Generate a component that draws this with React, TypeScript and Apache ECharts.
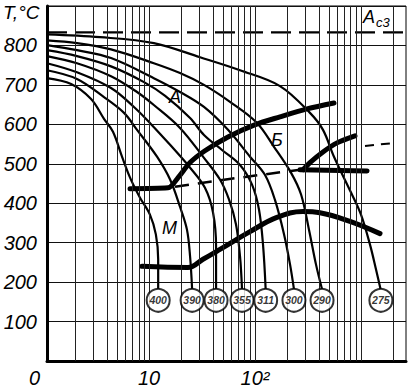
import React, { useEffect, useRef } from 'react';
import * as echarts from 'echarts';

// time axis (s, log) and temperature axis (°C)
const timeMin = 1.09;
const timeMax = 2658;
const tempMin = 0;
const tempMax = 900;
const tempStep = 100;
const ac3Temp = 833;
const circleTemp = 154;

const gridTimes = [2, 3, 4, 5, 6, 7, 8, 9, 10, 20, 30, 40, 50, 60, 70, 80, 90, 100, 200, 300, 400, 500, 600, 700, 800, 900, 1000, 2000];

const hardness = ['400', '390', '380', '355', '311', '300', '290', '275'];
const circleTimes = [12.2, 25.5, 42.9, 75.4, 126, 233, 429, 1540];

// cooling curves [time s, temperature °C]
const curve400 = [[1.09, 717], [1.84, 702], [2.84, 664], [3.76, 614], [4.57, 581], [5.56, 518], [6.62, 465], [8.22, 414], [10.2, 371], [11.6, 321], [12.2, 258], [12.2, 182]];
const curve390 = [[1.09, 737], [2.09, 715], [3.76, 669], [5.81, 629], [7.71, 586], [11.9, 518], [15.8, 460], [19.6, 391], [22.8, 333], [24.4, 265], [25.5, 182]];
const curve380 = [[1.09, 755], [2.09, 732], [4.38, 692], [7.21, 644], [10.4, 601], [15.8, 548], [24.4, 490], [33.7, 439], [40.2, 376], [42.9, 290], [42.9, 182]];
const curve355 = [[1.09, 773], [2.09, 755], [4.38, 722], [7.71, 682], [11.1, 649], [19.6, 591], [33.0, 515], [46.7, 460], [56.9, 409], [66.2, 346], [72.2, 265], [75.4, 182]];
const curve311 = [[1.09, 788], [2.09, 773], [4.38, 747], [8.97, 707], [14.2, 672], [24.4, 616], [33.0, 573], [48.8, 535], [72.2, 497], [93.7, 447], [109, 384], [119, 295], [126, 182]];
const curve300 = [[1.09, 801], [2.09, 788], [4.38, 768], [11.1, 717], [19.6, 682], [33.0, 644], [55.6, 586], [89.7, 518], [124, 472], [154, 409], [188, 321], [214, 245], [233, 182]];
const curve290 = [[1.09, 813], [2.09, 806], [4.38, 790], [11.1, 755], [19.6, 730], [33.0, 700], [58.1, 657], [104, 604], [151, 543], [219, 477], [272, 422], [323, 333], [376, 245], [429, 182]];
const curve275 = [[1.09, 828], [3.45, 821], [11.1, 806], [30.3, 770], [72.2, 737], [172, 697], [330, 629], [438, 586], [556, 518], [805, 427], [1000, 371], [1216, 295], [1386, 232], [1530, 182]];

const coolingCurves = [curve400, curve390, curve380, curve355, curve311, curve300, curve290, curve275];

// transformation lines
const upperLine = [[6.62, 437], [15.1, 439], [18.8, 465], [24.4, 503], [33.7, 533], [55.6, 568], [97.9, 598], [172, 619], [309, 639], [556, 654]];
const rightArc = [[284, 485], [330, 503], [438, 530], [594, 553], [877, 571]];
const rightFlat = [[266, 485], [1140, 482]];
const dashedLine = [[17.6, 442], [72.2, 465], [266, 485]];
const dashRight = [[1091, 545], [2093, 553]];
const lowerLine = [[8.59, 240], [23.3, 237], [32.3, 258], [46.7, 283], [89.7, 328], [161, 364], [284, 379], [410, 376], [787, 354], [1511, 323]];

const FONT = 'Liberation Sans';

export default function App() {
  const ref = useRef<HTMLDivElement>(null);
  useEffect(() => {
    if (!ref.current) return;
    const chart = echarts.init(ref.current, null, { renderer: 'svg' });
    const thin = (data: number[][], name: string) => ({
      type: 'line', name, data, showSymbol: false, smooth: 0.35, silent: true,
      lineStyle: { color: '#000', width: 2.2 }, z: 3,
    });
    const thick = (data: number[][], name: string, smooth = 0.3) => ({
      type: 'line', name, data, showSymbol: false, smooth, silent: true,
      lineStyle: { color: '#000', width: 5, cap: 'round' }, z: 4,
    });
    const series: any[] = [
      {
        type: 'line', name: 'Ac3', data: [[timeMin, ac3Temp], [timeMax, ac3Temp]], showSymbol: false, silent: true,
        lineStyle: { color: '#000', width: 2.2, type: [20, 8] }, z: 2,
        markLine: {
          silent: true, symbol: 'none', label: { show: false },
          lineStyle: { color: '#222', width: 1, type: 'solid' },
          data: gridTimes.map((t) => ({ xAxis: t })),
        },
      },
      ...coolingCurves.map((c, i) => thin(c, 'c' + hardness[i])),
      thick(upperLine, 'upper'),
      thick(rightArc, 'rightArc'),
      thick(rightFlat, 'rightFlat', 0),
      {
        type: 'line', name: 'dash', data: dashedLine, showSymbol: false, silent: true,
        lineStyle: { color: '#000', width: 2.5, type: [14, 9] }, z: 3,
      },
      {
        type: 'line', name: 'dashR', data: dashRight, showSymbol: false, silent: true,
        lineStyle: { color: '#000', width: 2, type: [9, 7] }, z: 3,
      },
      thick(lowerLine, 'lower', 0.4),
      {
        type: 'scatter', name: 'hv', z: 6, silent: true,
        data: circleTimes.map((t, i) => [t, circleTemp, hardness[i]]),
        symbol: 'circle', symbolSize: 23,
        itemStyle: { color: '#fff', borderColor: '#000', borderWidth: 2 },
        label: {
          show: true, position: 'inside', formatter: (p: any) => p.value[2],
          fontFamily: FONT, fontStyle: 'italic', fontWeight: 'bold', fontSize: 10.5,
          color: '#000', textBorderWidth: 0,
        },
      },
    ];
    chart.setOption({
      animation: false,
      backgroundColor: '#fff',
      grid: { left: 47, right: 2, top: 6, bottom: 26, show: true, borderColor: '#000', borderWidth: 1 },
      xAxis: {
        type: 'log', logBase: 10, min: timeMin, max: timeMax,
        axisLine: { show: true, lineStyle: { color: '#000', width: 3 } },
        axisTick: { show: false },
        splitLine: { show: false },
        axisLabel: {
          margin: 7, fontFamily: FONT, fontStyle: 'italic', fontSize: 20, color: '#000',
          showMinLabel: false, showMaxLabel: false,
          formatter: (v: number) => {
            const r = Math.round(v);
            if (r === 10) return '10';
            if (r === 100) return '10²';
            return '';
          },
        },
      },
      yAxis: {
        type: 'value', min: tempMin, max: tempMax, interval: tempStep,
        axisLine: { show: true, lineStyle: { color: '#000', width: 3 } },
        axisTick: { show: false },
        splitLine: { show: true, lineStyle: { color: '#111', width: 1 } },
        axisLabel: {
          margin: 10, fontFamily: FONT, fontStyle: 'italic', fontSize: 20, color: '#000',
          formatter: (v: number) => (v > tempMin && v < tempMax ? String(v) : ''),
        },
      },
      graphic: [
        { type: 'text', left: 3, top: 3, style: { text: 'T,°C', fontFamily: FONT, fontStyle: 'italic', fontSize: 19, fill: '#000' } },
        { type: 'text', left: 29, top: 368, style: { text: '0', fontFamily: FONT, fontStyle: 'italic', fontSize: 20, fill: '#000' } },
        { type: 'text', left: 363, top: 8, style: { text: 'A', fontFamily: FONT, fontStyle: 'italic', fontSize: 18, fill: '#000' } },
        { type: 'text', left: 376, top: 16, style: { text: 'c3', fontFamily: FONT, fontStyle: 'italic', fontSize: 13, fill: '#000' } },
        { type: 'text', left: 169, top: 88, style: { text: 'A', fontFamily: FONT, fontStyle: 'italic', fontSize: 18, fill: '#000' } },
        { type: 'text', left: 271, top: 131, style: { text: 'Б', fontFamily: FONT, fontStyle: 'italic', fontSize: 18, fill: '#000' } },
        { type: 'text', left: 162, top: 219, style: { text: 'М', fontFamily: FONT, fontStyle: 'italic', fontSize: 18, fill: '#000' } },
      ],
      series,
    });
    return () => chart.dispose();
  }, []);
  return <div ref={ref} style={{ position: 'fixed', left: 0, top: 0, width: 408, height: 388, background: '#fff' }} />;
}
